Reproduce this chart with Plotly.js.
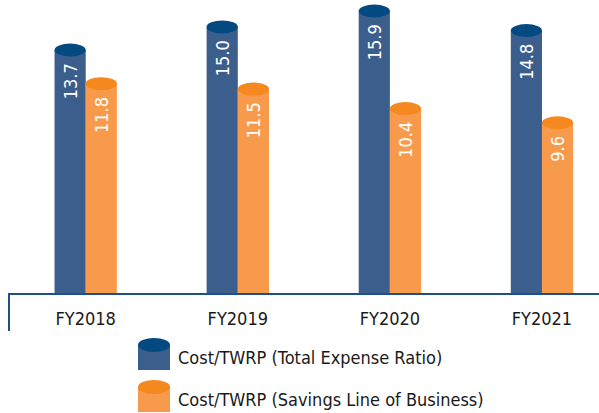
<!DOCTYPE html>
<html>
<head>
<meta charset="utf-8">
<script src="https://cdn.plot.ly/plotly-3.0.1.min.js"></script>
<style>
html,body{margin:0;padding:0;background:#fff;}
#chart{width:599px;height:413px;}
</style>
</head>
<body>
<div id="chart"></div>
<script>
// ---- data ----
var categories = ["FY2018", "FY2019", "FY2020", "FY2021"];
var seriesNames = ["Cost/TWRP (Total Expense Ratio)", "Cost/TWRP (Savings Line of Business)"];
var totalExpense = [13.7, 15.0, 15.9, 14.8];
var savingsLOB = [11.8, 11.5, 10.4, 9.6];

// ---- styles ----
var FONT = '"DejaVu Sans Condensed", "Liberation Sans Narrow", sans-serif';
var bodyColors = ["#3b5e8d", "#f79a4b"];
var topColors = ["#044a80", "#f5881f"];
var W = 599, H = 413;
var mL = 8, mR = 0, mT = 0, mB = 120;
var plotW = W - mL - mR, plotH = H - mT - mB;
var barW = 0.205;
var PAD = "\u00a0\u00a0";

var xIdx = categories.map(function (c, i) { return i; });
var series = [totalExpense, savingsLOB];
var offsets = [-barW, 0];

var traces = series.map(function (vals, s) {
  return {
    type: "bar",
    name: seriesNames[s],
    x: xIdx,
    y: vals,
    width: barW,
    offset: offsets[s],
    marker: {color: bodyColors[s], line: {width: 0}},
    text: vals.map(function (v) { return v.toFixed(1) + PAD; }),
    textposition: "inside",
    insidetextanchor: "end",
    textangle: -90,
    textfont: {family: FONT, size: 18, color: "#ffffff"},
    cliponaxis: false,
    hoverinfo: "x+y",
    showlegend: false
  };
});

// cylinder tops (ellipses) derived from data
var shapes = [];
series.forEach(function (vals, s) {
  vals.forEach(function (v, i) {
    shapes.push({
      type: "circle", xref: "x", yref: "y",
      x0: i + offsets[s], x1: i + offsets[s] + barW,
      ysizemode: "pixel", yanchor: v, y0: -6.5, y1: 6.5,
      fillcolor: topColors[s], line: {width: 0}, layer: "above"
    });
  });
});

// helpers: pixel -> paper
function px(xp) { return (xp - mL) / plotW; }
function py(yp) { return (mT + plotH - yp) / plotH; }

// short left border line below axis
shapes.push({type: "line", xref: "paper", yref: "paper",
  x0: px(9), x1: px(9), y0: py(293), y1: py(331),
  line: {color: "#1b5088", width: 2}});

// custom cylinder legend
var legendRows = [{top: 345, bottom: 370, text: 357}, {top: 387, bottom: 412, text: 399}];
var annotations = [];
legendRows.forEach(function (r, s) {
  shapes.push({type: "rect", xref: "paper", yref: "paper",
    x0: px(138), x1: px(170), y0: py(r.bottom), y1: py(r.top),
    fillcolor: bodyColors[s], line: {width: 0}});
  shapes.push({type: "circle", xref: "paper", yref: "paper",
    x0: px(138), x1: px(170),
    ysizemode: "pixel", yanchor: py(r.top), y0: -7, y1: 7,
    fillcolor: topColors[s], line: {width: 0}});
  annotations.push({xref: "paper", yref: "paper", x: px(176), y: py(r.text),
    xanchor: "left", yanchor: "middle", showarrow: false,
    text: seriesNames[s], font: {family: FONT, size: 18, color: "#1a1a1a"}});
});

var layout = {
  width: W, height: H,
  margin: {l: mL, r: mR, t: mT, b: mB, pad: 0},
  paper_bgcolor: "#ffffff", plot_bgcolor: "#ffffff",
  barmode: "overlay",
  showlegend: false,
  xaxis: {
    range: [-0.511, 3.375],
    tickvals: xIdx, ticktext: categories,
    showline: true, linecolor: "#1b5088", linewidth: 2,
    showgrid: false, zeroline: false, ticks: "",
    tickfont: {family: FONT, size: 18, color: "#1a1a1a"},
    ticklabelstandoff: 8,
    fixedrange: true
  },
  yaxis: {
    range: [0, 16.52],
    visible: false, showgrid: false, zeroline: false, fixedrange: true
  },
  shapes: shapes,
  annotations: annotations
};

Plotly.newPlot("chart", traces, layout, {displayModeBar: false, staticPlot: true});
</script>
</body>
</html>
